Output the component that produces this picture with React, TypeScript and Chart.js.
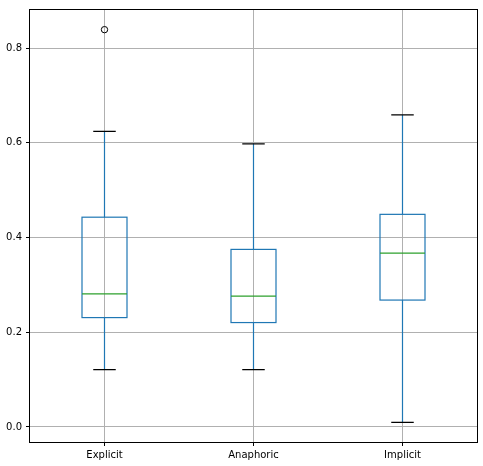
import React, { useEffect, useRef } from "react";
import { Chart, registerables } from "chart.js";

Chart.register(...registerables);

const categories = ["Explicit", "Anaphoric", "Implicit"];
const q1 = [0.231, 0.2205, 0.268];
const median = [0.281, 0.2765, 0.367];
const q3 = [0.443, 0.375, 0.449];
const whiskerLow = [0.121, 0.121, 0.0098];
const whiskerHigh = [0.624, 0.598, 0.659];
const outliers: (number | null)[] = [0.839, null, null];
const yTicks = [0.0, 0.2, 0.4, 0.6, 0.8];

const BLUE = "#1f77b4";
const GREEN = "#2ca02c";

const boxPlugin = {
  id: "boxParts",
  afterDatasetsDraw(chart: any) {
    const ctx = chart.ctx;
    const xs = chart.scales.x;
    const ys = chart.scales.y;
    const meta = chart.getDatasetMeta(0);
    ctx.save();
    ctx.lineWidth = 1.2;
    categories.forEach((_, i) => {
      const el = meta.data[i];
      const x = xs.getPixelForValue(i);
      const w = el ? el.width : 45;
      // box
      ctx.strokeStyle = BLUE;
      const yTop = ys.getPixelForValue(q3[i]);
      const yBot = ys.getPixelForValue(q1[i]);
      ctx.strokeRect(x - w / 2, yTop, w, yBot - yTop);
      // whiskers
      ctx.beginPath();
      ctx.moveTo(x, yTop);
      ctx.lineTo(x, ys.getPixelForValue(whiskerHigh[i]));
      ctx.moveTo(x, yBot);
      ctx.lineTo(x, ys.getPixelForValue(whiskerLow[i]));
      ctx.stroke();
      // caps
      ctx.strokeStyle = "#000";
      ctx.beginPath();
      ctx.moveTo(x - w / 4, ys.getPixelForValue(whiskerHigh[i]));
      ctx.lineTo(x + w / 4, ys.getPixelForValue(whiskerHigh[i]));
      ctx.moveTo(x - w / 4, ys.getPixelForValue(whiskerLow[i]));
      ctx.lineTo(x + w / 4, ys.getPixelForValue(whiskerLow[i]));
      ctx.stroke();
      // median
      ctx.strokeStyle = GREEN;
      ctx.beginPath();
      ctx.moveTo(x - w / 2, ys.getPixelForValue(median[i]));
      ctx.lineTo(x + w / 2, ys.getPixelForValue(median[i]));
      ctx.stroke();
    });
    ctx.restore();
  },
  afterDraw(chart: any) {
    const { left, top, right, bottom } = chart.chartArea;
    const ctx = chart.ctx;
    ctx.save();
    ctx.strokeStyle = "#000";
    ctx.lineWidth = 1;
    ctx.strokeRect(Math.round(left) - 0.5, Math.round(top) - 0.5, Math.round(right - left) + 1, Math.round(bottom - top) + 1);
    ctx.restore();
  },
};

export default function App() {
  const ref = useRef<HTMLCanvasElement>(null);
  useEffect(() => {
    if (!ref.current) return;
    const chart = new Chart(ref.current, {
      type: "bar",
      data: {
        labels: categories,
        datasets: [
          {
            type: "bar",
            data: categories.map((_, i) => [q1[i], q3[i]]) as any,
            backgroundColor: "rgba(0,0,0,0)",
            borderWidth: 0,
            barPercentage: 0.302,
            categoryPercentage: 1,
          } as any,
          {
            type: "line",
            data: outliers as any,
            showLine: false,
            pointRadius: 3.2,
            pointBorderWidth: 1,
            pointBorderColor: "#000",
            pointBackgroundColor: "rgba(0,0,0,0)",
          } as any,
        ],
      },
      options: {
        responsive: false,
        animation: false,
        devicePixelRatio: 1,
        layout: { padding: { left: 0, right: 6, top: 7, bottom: 0 } },
        plugins: { legend: { display: false }, tooltip: { enabled: false } },
        scales: {
          x: {
            offset: true,
            grid: { offset: false, color: "#b0b0b0", lineWidth: 1, tickColor: "#000", tickLength: 4 },
            border: { display: false },
            ticks: { color: "#000", font: { family: "DejaVu Sans", size: 10 }, padding: 3, maxRotation: 0 },
            afterFit: (s: any) => { s.height = 24; },
          },
          y: {
            min: -0.0317,
            max: 0.8805,
            afterBuildTicks: (s: any) => { s.ticks = yTicks.map((v) => ({ value: v })); },
            grid: { color: "#b0b0b0", lineWidth: 1, tickColor: "#000", tickLength: 4 },
            border: { display: false },
            ticks: {
              color: "#000",
              font: { family: "DejaVu Sans", size: 10 },
              padding: 4,
              callback: (v: any) => Number(v).toFixed(1),
            },
            afterFit: (s: any) => { s.width = 30; },
          },
        },
      },
      plugins: [boxPlugin],
    });
    return () => chart.destroy();
  }, []);
  return (
    <div style={{ position: "absolute", left: 0, top: 0, width: 483, height: 466, background: "#fff" }}>
      <canvas ref={ref} width={483} height={466} style={{ display: "block" }} />
    </div>
  );
}
